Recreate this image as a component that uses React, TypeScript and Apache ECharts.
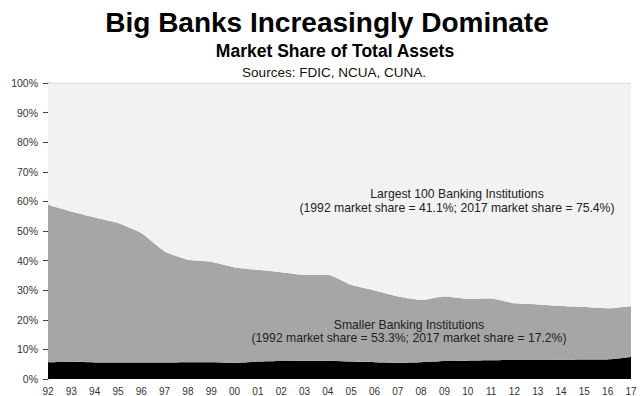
import React, { useEffect, useRef } from "react";
import * as echarts from "echarts";

const years = ["92","93","94","95","96","97","98","99","00","01","02","03","04","05","06","07","08","09","10","11","12","13","14","15","16","17"];
const creditUnions = [5.6,5.8,5.6,5.6,5.6,5.6,5.7,5.7,5.5,5.9,6.1,6.2,6.2,5.9,5.7,5.5,5.7,6.1,6.2,6.3,6.4,6.4,6.5,6.6,6.6,7.4];
const smallerBanks = [53.3,50.8,49.0,47.1,43.7,37.5,34.6,33.9,32.2,31.0,30.0,29.0,29.0,25.9,24.2,22.4,21.0,21.8,20.9,20.9,19.2,18.8,18.2,17.7,17.3,17.2];
const largest100 = [41.1,43.4,45.4,47.3,50.7,56.9,59.7,60.4,62.3,63.1,63.9,64.8,64.8,68.2,70.1,72.1,73.3,72.1,72.9,72.8,74.4,74.8,75.3,75.7,76.1,75.4];

const FONT = "Liberation Sans";

export default function App() {
  const ref = useRef<HTMLDivElement>(null);
  useEffect(() => {
    if (!ref.current) return;
    const chart = echarts.init(ref.current, undefined, { renderer: "svg" });
    const areaSeries = (name: string, data: number[], color: string, lineColor: string, lw: number) => ({
      name,
      type: "line",
      stack: "total",
      data,
      symbol: "none",
      smooth: 0.15,
      lineStyle: { width: lw, color: lineColor },
      areaStyle: { color, opacity: 1 },
      itemStyle: { color },
    });
    const txt = (text: string, x: number, y: number, font: string, fill = "#222") => ({
      type: "text",
      x,
      y,
      z: 100,
      style: { text, font, fill, align: "center", verticalAlign: "middle" },
    });
    chart.setOption({
      animation: false,
      backgroundColor: "#ffffff",
      grid: { left: 48, right: 13, top: 83, bottom: 17 },
      xAxis: {
        type: "category",
        data: years,
        boundaryGap: false,
        axisLine: { show: false },
        axisTick: { show: false },
        axisLabel: { fontFamily: FONT, fontSize: 10, color: "#333", margin: 7 },
      },
      yAxis: {
        type: "value",
        min: 0,
        max: 100,
        interval: 10,
        axisLine: { show: true, lineStyle: { color: "#444", width: 1 } },
        axisTick: { show: true, length: 5, lineStyle: { color: "#444" } },
        splitLine: { show: false },
        axisLabel: { fontFamily: FONT, fontSize: 10.5, color: "#333", margin: 10, formatter: "{value}%" },
      },
      series: [
        areaSeries("Credit Unions", creditUnions, "#000000", "#000000", 0),
        areaSeries("Smaller Banking Institutions", smallerBanks, "#a6a6a6", "#a6a6a6", 0),
        areaSeries("Largest 100 Banking Institutions", largest100, "#f2f2f2", "#d4d4d4", 1),
      ],
      graphic: [
        txt("Big Banks Increasingly Dominate", 327, 22, `bold 28px ${FONT}`, "#000"),
        txt("Market Share of Total Assets", 335, 51, `bold 17.5px ${FONT}`, "#000"),
        txt("Sources: FDIC, NCUA, CUNA.", 334, 72, `13.5px ${FONT}`, "#111"),
        txt("Largest 100 Banking Institutions", 457, 194, `12.2px ${FONT}`),
        txt("(1992 market share = 41.1%; 2017 market share = 75.4%)", 457, 208, `12.2px ${FONT}`),
        txt("Smaller Banking Institutions", 409, 325, `12.2px ${FONT}`),
        txt("(1992 market share = 53.3%; 2017 market share = 17.2%)", 409, 338, `12.2px ${FONT}`),
      ],
    });
    return () => chart.dispose();
  }, []);
  return <div ref={ref} style={{ width: 644, height: 396, position: "fixed", left: 0, top: 0 }} />;
}
